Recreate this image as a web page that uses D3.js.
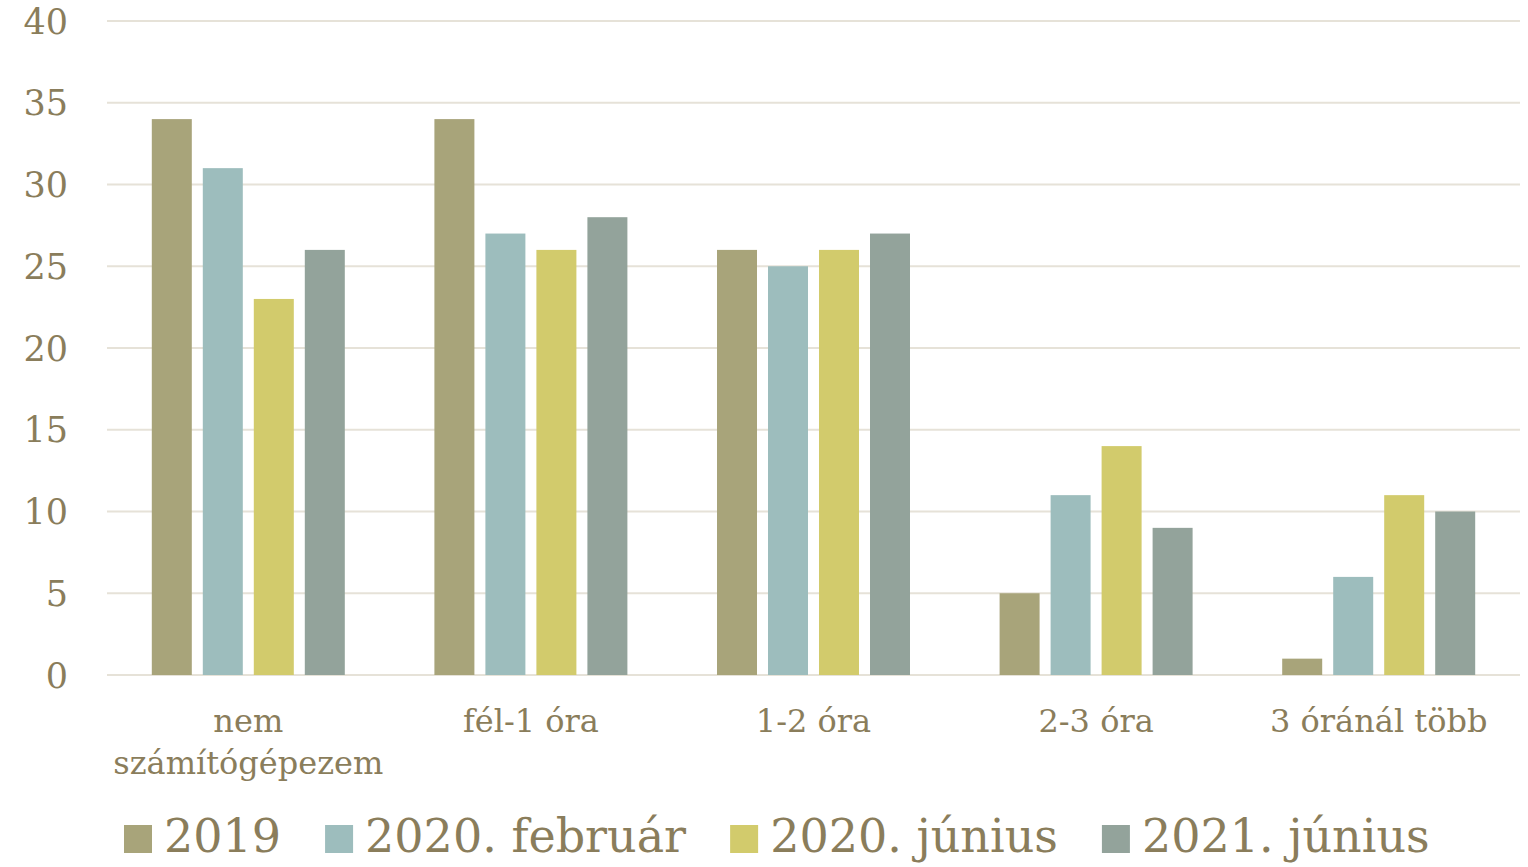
<!DOCTYPE html>
<html>
<head>
<meta charset="utf-8">
<script src="https://cdn.jsdelivr.net/npm/d3@7"></script>
<style>
  body { margin: 0; background: #fff; }
  text { font-family: "DejaVu Serif", Georgia, serif; fill: #8a7d5b; }
</style>
</head>
<body>
<div id="chart"></div>
<script>
var categories = ['nem számítógépezem', 'fél-1 óra', '1-2 óra', '2-3 óra', '3 óránál több']
var seriesNames = ['2019', '2020. február', '2020. június', '2021. június']
var values2019 = [34, 34, 26, 5, 1]
var valuesFeb2020 = [31, 27, 25, 11, 6]
var valuesJun2020 = [23, 26, 26, 14, 11]
var valuesJun2021 = [26, 28, 27, 9, 10]
var yTicks = [0, 5, 10, 15, 20, 25, 30, 35, 40]
var colors = ['#a8a47a', '#9dbdbd', '#d2cb6c', '#93a39b']

var seriesValues = [values2019, valuesFeb2020, valuesJun2020, valuesJun2021]
var width = 1528, height = 867
var margin = { top: 21, right: 8, bottom: 192, left: 107 }
var innerW = width - margin.left - margin.right
var innerH = height - margin.top - margin.bottom

var svg = d3.select('#chart').append('svg')
  .attr('width', width)
  .attr('height', height)

var g = svg.append('g')
  .attr('transform', 'translate(' + margin.left + ',' + margin.top + ')')

var groupW = 193
var x0 = d3.scaleBand().domain(categories).range([0, innerW])
var x1 = d3.scaleBand().domain(seriesNames).range([0, groupW]).paddingInner(0.2157)
var y = d3.scaleLinear().domain([0, 40]).range([innerH, 0])

// rácsvonalak
g.append('g')
  .selectAll('line')
  .data(yTicks)
  .enter().append('line')
  .attr('x1', 0)
  .attr('x2', innerW)
  .attr('y1', function (d) { return y(d) })
  .attr('y2', function (d) { return y(d) })
  .attr('stroke', '#e6e2d8')
  .attr('stroke-width', 2)

// y tengely feliratai
g.append('g')
  .selectAll('text')
  .data(yTicks)
  .enter().append('text')
  .attr('x', -39)
  .attr('y', function (d) { return y(d) + 3 })
  .attr('text-anchor', 'end')
  .attr('dominant-baseline', 'middle')
  .style('font-size', '35px')
  .text(function (d) { return d })

// oszlopok
var groups = g.append('g')
  .selectAll('g')
  .data(categories)
  .enter().append('g')
  .attr('transform', function (d) {
    return 'translate(' + (x0(d) + (x0.bandwidth() - groupW) / 2) + ',0)'
  })

groups.selectAll('rect')
  .data(function (d, i) {
    return seriesNames.map(function (s, j) { return { key: s, value: seriesValues[j][i], color: colors[j] } })
  })
  .enter().append('rect')
  .attr('x', function (d) { return x1(d.key) })
  .attr('y', function (d) { return y(d.value) })
  .attr('width', x1.bandwidth())
  .attr('height', function (d) { return innerH - y(d.value) })
  .attr('fill', function (d) { return d.color })

// kategória feliratok
var catLabels = g.append('g')
  .selectAll('text')
  .data(categories)
  .enter().append('text')
  .attr('x', function (d) { return x0(d) + x0.bandwidth() / 2 })
  .attr('y', innerH + 57)
  .attr('text-anchor', 'middle')
  .style('font-size', '32px')

catLabels.each(function (d) {
  var t = d3.select(this)
  var lines = d === 'nem számítógépezem' ? ['nem', 'számítógépezem'] : [d]
  lines.forEach(function (l, i) {
    t.append('tspan')
      .attr('x', t.attr('x'))
      .attr('dy', i === 0 ? 0 : 42)
      .text(l)
  })
})

// jelmagyarázat
var legend = svg.append('g').attr('transform', 'translate(0,' + 838 + ')')
var items = legend.selectAll('g')
  .data(seriesNames)
  .enter().append('g')

items.append('rect')
  .attr('width', 28)
  .attr('height', 28)
  .attr('y', -13)
  .attr('fill', function (d, i) { return colors[i] })

items.append('text')
  .attr('x', 40)
  .attr('y', 2)
  .attr('dominant-baseline', 'middle')
  .style('font-size', '46px')
  .text(function (d) { return d })

var offset = 124
items.each(function () {
  var it = d3.select(this)
  it.attr('transform', 'translate(' + offset + ',0)')
  offset += 40 + it.select('text').node().getComputedTextLength() + 44
})
</script>
</body>
</html>
